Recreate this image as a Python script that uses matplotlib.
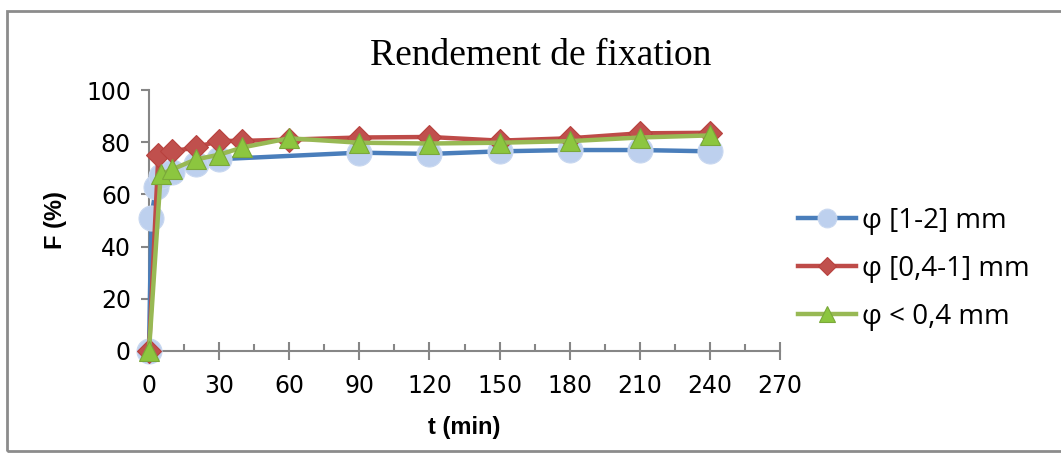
import matplotlib
matplotlib.use("Agg")
import matplotlib.pyplot as plt
from matplotlib.patches import Rectangle
from matplotlib.ticker import MultipleLocator

# Fixation yield F (%) versus contact time t (min) for three particle sizes
t_large = [0, 1, 3, 5, 10, 20, 30, 90, 120, 150, 180, 210, 240]
f_large = [0, 51, 63, 67, 68.5, 71.5, 73.5, 76, 75.5, 76.5, 77, 77, 76.5]

t_medium = [0, 4, 10, 20, 30, 40, 60, 90, 120, 150, 180, 210, 240]
f_medium = [0, 75, 76.5, 78, 80.5, 80.5, 81, 81.8, 82, 80.6, 81.5, 83.4, 83.6]

t_small = [0, 5, 10, 20, 30, 40, 60, 90, 120, 150, 180, 210, 240]
f_small = [0, 67.7, 69.6, 73.4, 75.2, 78, 81.5, 79.8, 79.5, 79.8, 80.4, 81.8, 82.6]

series_labels = ["φ [1-2] mm", "φ [0,4-1] mm", "φ < 0,4 mm"]
x_ticks = [0, 30, 60, 90, 120, 150, 180, 210, 240, 270]
y_ticks = [0, 20, 40, 60, 80, 100]

W, H = 1061, 454
fig = plt.figure(figsize=(W / 100, H / 100), dpi=100)
fig.patch.set_facecolor("white")

# outer chart frame
fig.patches.append(Rectangle((7 / W, 1 - 451 / H), (W + 20) / W, (451 - 11) / H,
                             transform=fig.transFigure, fill=False,
                             edgecolor="#8c8c8c", linewidth=2))

ax = fig.add_axes([149 / W, 1 - 351 / H, (780 - 149) / W, (351 - 90) / H])
ax.set_facecolor("white")
ax.patch.set_alpha(0)

lw = 3.2
ax.plot(t_large, f_large, color="#4a7ebb", lw=lw, marker="o", ms=18,
        markerfacecolor="#bdd0ee", markeredgecolor="#c9d8f0", mew=0.8,
        label=series_labels[0], zorder=3, clip_on=False)
ax.plot(t_medium, f_medium, color="#be4b48", lw=lw, marker="D", ms=12,
        markerfacecolor="#c0504d", markeredgecolor="#b8413e", mew=0.8,
        label=series_labels[1], zorder=4, clip_on=False)
ax.plot(t_small, f_small, color="#98b954", lw=lw, marker="^", ms=15,
        markerfacecolor="#8cc63f", markeredgecolor="#7aa83a", mew=0.8,
        label=series_labels[2], zorder=5, clip_on=False)

ax.set_xlim(0, 270)
ax.set_ylim(0, 100)
ax.set_xticks(x_ticks)
ax.set_yticks(y_ticks)
ax.xaxis.set_minor_locator(MultipleLocator(15))

for side in ("top", "right"):
    ax.spines[side].set_visible(False)
for side in ("left", "bottom"):
    ax.spines[side].set_color("#868686")
    ax.spines[side].set_linewidth(1.5)

tick_font = ["DejaVu Sans"]
label_font = ["Liberation Sans", "DejaVu Sans"]
ax.tick_params(axis="x", which="major", direction="inout", length=13,
               width=1.5, color="#868686", pad=10, labelsize=17)
ax.tick_params(axis="x", which="minor", direction="in", length=5,
               width=1.5, color="#868686")
ax.tick_params(axis="y", which="major", direction="out", length=6,
               width=1.5, color="#868686", pad=7, labelsize=17)
for lab in ax.get_xticklabels() + ax.get_yticklabels():
    lab.set_family(tick_font)

ax.set_xlabel("t (min)", fontsize=17, fontweight="bold", family=label_font, labelpad=13)
ax.set_ylabel("F (%)", fontsize=17, fontweight="bold", family=label_font, labelpad=14)

fig.text(541 / W, 1 - 56 / H, "Rendement de fixation", ha="center", va="center",
         fontsize=27, family=["Liberation Serif", "DejaVu Serif"])

leg = ax.legend(loc="center left", bbox_to_anchor=(798 / W, 1 - 269 / H),
                bbox_transform=fig.transFigure, frameon=False, borderpad=0,
                borderaxespad=0, handlelength=2.1, handletextpad=0.22,
                labelspacing=0.72, markerscale=0.75,
                prop={"family": ["Open Sans", "DejaVu Sans"], "size": 20})

fig.savefig("out.png", dpi=100, facecolor="white")
